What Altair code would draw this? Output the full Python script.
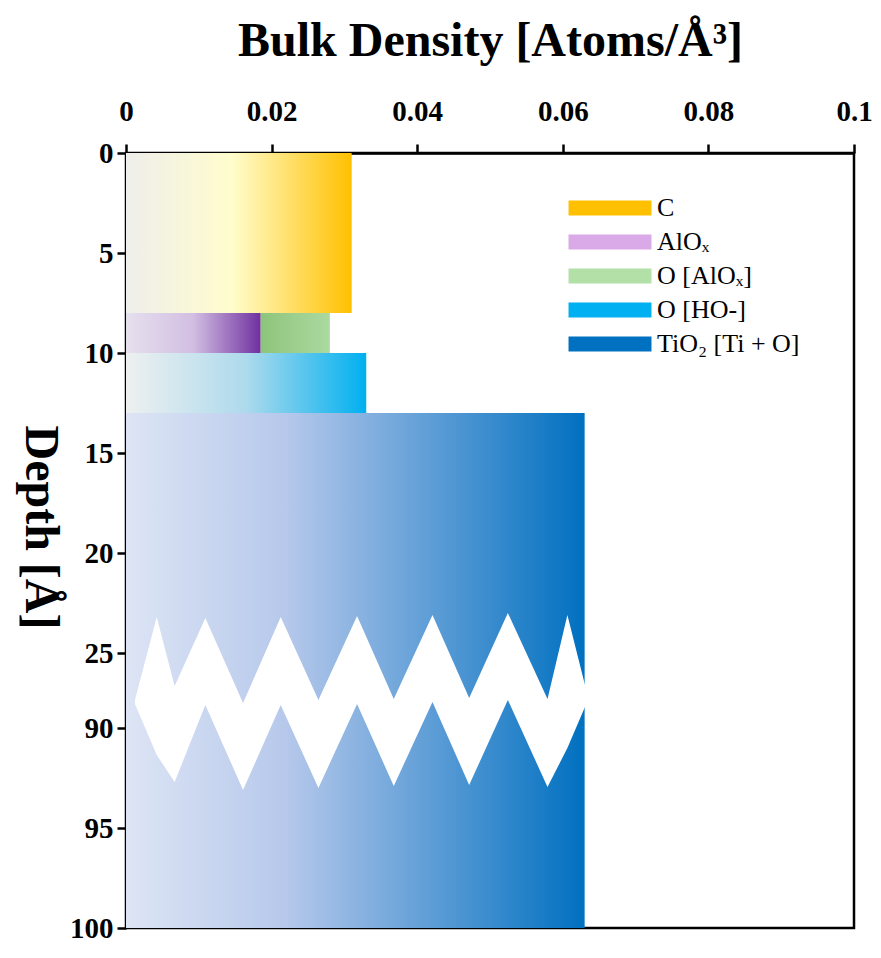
import altair as alt
import pandas as pd

# ---------------- data ----------------
segments = ["C", "AlOₓ", "O [AlOₓ]", "O [HO-]", "TiO₂ [Ti + O]"]
dens_start = [0.0, 0.0, 0.0185, 0.0, 0.0]
dens_end = [0.031, 0.0185, 0.028, 0.033, 0.063]
depth_top = [0, 8, 8, 10, 13]
depth_bottom = [8, 10, 10, 13, 100]
legend_colors = ["#FFC000", "#D9A9E8", "#B3E0A6", "#00B0F0", "#0070C0"]
gradient_colors = [
    ["#EEEEEC", "#FFFDCC", "#FFC000"],
    ["#E6E0EE", "#D2BEE2", "#7030A0"],
    ["#8DC47B", "#9DCF8E", "#ABD9A0"],
    ["#EEF0F0", "#ADDAEC", "#00B0F0"],
    ["#DDE5F5", "#B6C8EB", "#0070C0"],
]
gradient_offsets = [
    [0, 0.47, 1],
    [0, 0.5, 1],
    [0, 0.5, 1],
    [0, 0.5, 1],
    [0, 0.35, 1],
]

x_ticks = [0, 0.02, 0.04, 0.06, 0.08, 0.1]
y_tick_labels = [0, 5, 10, 15, 20, 25, 90, 95, 100]
break_top = 27.1
break_bottom = 88.35

# white zig-zag axis-break band (density, depth of upper and lower edge)
zig_x = [0.00123, 0.00422, 0.00668, 0.0109, 0.01608, 0.02125, 0.02643, 0.03174,
         0.03678, 0.0421, 0.04714, 0.05245, 0.0579, 0.06063, 0.06322]
zig_top = [88.6, 23.2, 26.65, 23.25, 88.75, 23.2, 88.6, 23.15, 88.55, 23.1,
           88.5, 23.0, 88.55, 23.1, 26.85]
zig_bottom = [88.8, 91.35, 92.7, 88.85, 93.1, 88.85, 93.0, 88.8, 92.9, 88.7,
              92.85, 88.6, 92.95, 91.0, 88.8]

gap = break_bottom - break_top


def pos(d):
    return d if d <= break_top else d - gap


bars = pd.DataFrame({
    "segment": segments,
    "x0": dens_start,
    "x1": dens_end,
    "y0": [pos(d) for d in depth_top],
    "y1": [pos(d) for d in depth_bottom],
})
zig = pd.DataFrame({
    "x": zig_x,
    "top": [pos(d) for d in zig_top],
    "bottom": [pos(d) for d in zig_bottom],
})

y_max = pos(100)
y_tick_pos = [pos(v) for v in y_tick_labels]

FONT = "Liberation Serif"

x_scale = alt.Scale(domain=[0, 0.1], nice=False, zero=False)
y_scale = alt.Scale(domain=[0, y_max], nice=False, zero=False, reverse=True)

x_axis = alt.Axis(
    orient="top", values=x_ticks, format="~g", title="Bulk Density [Atoms/Å³]",
    labelFont=FONT, labelFontWeight="bold", labelFontSize=29, labelPadding=18,
    labelColor="black", labelFlush=False,
    titleFont=FONT, titleFontWeight="bold", titleFontSize=48, titlePadding=32,
    titleColor="black",
)
y_axis = alt.Axis(
    values=y_tick_pos,
    labelExpr=f"format(datum.value > {break_top} ? datum.value + {gap} : datum.value, 'd')",
    title="Depth [Å]", titleAngle=90, titleBaseline="top",
    titleX=-63, titleY=374,
    labelFont=FONT, labelFontWeight="bold", labelFontSize=29, labelPadding=4,
    labelColor="black", labelFlush=False,
    titleFont=FONT, titleFontWeight="bold", titleFontSize=48, titleColor="black",
)

base = alt.Chart(bars)

legend_layer = base.mark_rect(opacity=0).encode(
    x=alt.X("x0:Q", scale=x_scale, axis=x_axis),
    x2="x1:Q",
    y=alt.Y("y0:Q", scale=y_scale, axis=y_axis),
    y2="y1:Q",
    color=alt.Color(
        "segment:N",
        scale=alt.Scale(domain=segments, range=legend_colors),
        legend=alt.Legend(
            title=None, orient="none", legendX=471, legendY=42,
            symbolType="M-5.53,-1H5.53V1H-5.53Z", symbolSize=225,
            symbolOpacity=1, symbolStrokeWidth=0,
            labelOffset=34, labelFont=FONT, labelFontSize=26,
            labelColor="black", labelLimit=400, rowPadding=8,
        ),
    ),
)

layers = [legend_layer]
for i, name in enumerate(segments):
    grad = alt.LinearGradient(
        gradient="linear",
        stops=[alt.GradientStop(color=c, offset=o)
               for c, o in zip(gradient_colors[i], gradient_offsets[i])],
        x1=0, x2=1, y1=0, y2=0,
    )
    layers.append(
        base.transform_filter(alt.datum.segment == name)
        .mark_rect(fill=grad, strokeWidth=0)
        .encode(x="x0:Q", x2="x1:Q", y="y0:Q", y2="y1:Q")
    )

zig_layer = alt.Chart(zig).mark_area(color="white", opacity=1, orient="vertical").encode(
    x=alt.X("x:Q", sort=None),
    y="top:Q",
    y2="bottom:Q",
)
layers.append(zig_layer)

chart = alt.layer(*layers).properties(
    width=728, height=775,
    autosize=alt.AutoSizeParams(type="none"),
    padding={"left": 118, "top": 145, "right": 18, "bottom": 16},
).configure_view(
    stroke="black", strokeWidth=2.5,
).configure_axis(
    grid=False, domainColor="black", domainWidth=2.5,
    tickColor="black", tickWidth=2.5, tickSize=9,
)

chart.save("out.html", embed_options={"renderer": "svg", "actions": False})
